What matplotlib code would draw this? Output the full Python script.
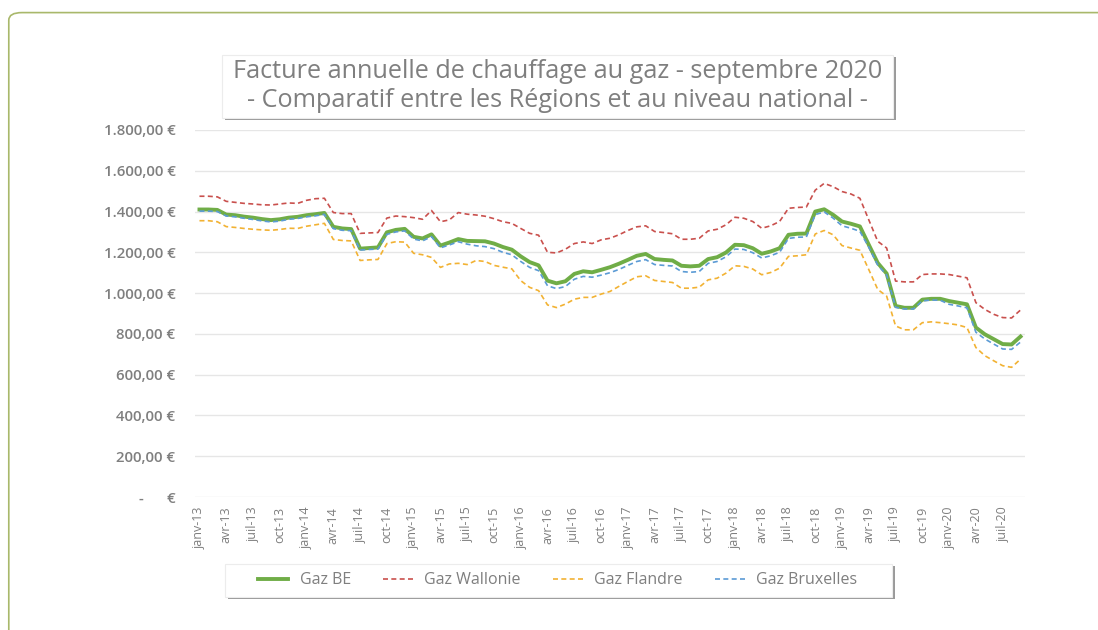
import matplotlib
matplotlib.use("Agg")
import matplotlib.pyplot as plt
from matplotlib.patches import FancyBboxPatch, Rectangle
import numpy as np

# monthly values, janv-13 .. sept-20
years = list(range(13, 21))
month_names = ["janv", "févr", "mars", "avr", "mai", "juin",
               "juil", "août", "sept", "oct", "nov", "déc"]
months = [f"{m}-{y}" for y in years for m in month_names][:93]

gaz_be = [1410, 1410, 1408, 1385, 1382, 1375, 1370, 1363, 1358, 1362, 1370, 1374,
          1382, 1387, 1393, 1325, 1317, 1314, 1218, 1221, 1224, 1298, 1310, 1315,
          1276, 1268, 1288, 1233, 1248, 1265, 1256, 1255, 1254, 1243, 1226, 1213,
          1180, 1152, 1136, 1061, 1048, 1058, 1094, 1107, 1102, 1114, 1127, 1144,
          1163, 1183, 1192, 1167, 1163, 1160, 1134, 1131, 1134, 1167, 1176, 1199,
          1237, 1235, 1220, 1193, 1204, 1220, 1286, 1291, 1292, 1400, 1411, 1384,
          1351, 1340, 1327, 1237, 1148, 1096, 937, 928, 928, 968, 972, 972,
          961, 953, 945, 831, 798, 774, 750, 748, 787]
gaz_wallonie = [1475, 1475, 1472, 1450, 1445, 1440, 1437, 1433, 1432, 1437, 1442, 1440,
                1455, 1463, 1465, 1395, 1390, 1390, 1293, 1295, 1297, 1368, 1378, 1375,
                1370, 1362, 1405, 1350, 1359, 1395, 1387, 1383, 1377, 1365, 1350, 1342,
                1317, 1293, 1284, 1200, 1197, 1215, 1243, 1251, 1243, 1261, 1269, 1286,
                1307, 1325, 1330, 1302, 1297, 1291, 1264, 1264, 1269, 1305, 1313, 1335,
                1372, 1367, 1351, 1318, 1330, 1351, 1416, 1420, 1422, 1505, 1538, 1522,
                1498, 1486, 1465, 1359, 1254, 1221, 1059, 1055, 1055, 1091, 1094, 1094,
                1091, 1083, 1075, 953, 920, 896, 880, 878, 917]
gaz_flandre = [1355, 1355, 1350, 1326, 1322, 1317, 1313, 1310, 1308, 1312, 1318, 1317,
               1328, 1335, 1342, 1263, 1258, 1256, 1160, 1163, 1165, 1243, 1252, 1250,
               1195, 1188, 1175, 1126, 1143, 1146, 1140, 1160, 1155, 1136, 1127, 1119,
               1061, 1028, 1012, 942, 929, 946, 970, 979, 979, 995, 1008, 1033,
               1057, 1080, 1085, 1062, 1057, 1052, 1024, 1024, 1029, 1065, 1073, 1098,
               1134, 1131, 1118, 1090, 1101, 1122, 1180, 1183, 1188, 1290, 1307, 1286,
               1233, 1221, 1210, 1115, 1018, 985, 839, 820, 820, 855, 859, 855,
               850, 844, 831, 733, 693, 668, 644, 636, 676]
gaz_bruxelles = [1402, 1402, 1400, 1378, 1374, 1367, 1361, 1354, 1349, 1353, 1362, 1366,
                 1374, 1379, 1386, 1316, 1308, 1306, 1211, 1214, 1216, 1288, 1300, 1305,
                 1265, 1256, 1277, 1222, 1236, 1252, 1240, 1232, 1228, 1218, 1200, 1188,
                 1155, 1126, 1110, 1036, 1022, 1032, 1068, 1082, 1078, 1088, 1100, 1116,
                 1136, 1155, 1164, 1140, 1136, 1133, 1106, 1102, 1106, 1146, 1155, 1178,
                 1216, 1214, 1198, 1172, 1183, 1200, 1268, 1274, 1275, 1385, 1398, 1368,
                 1330, 1318, 1303, 1225, 1138, 1088, 930, 922, 922, 962, 966, 965,
                 945, 937, 928, 808, 775, 750, 726, 724, 760]

y_ticks = [0, 200, 400, 600, 800, 1000, 1200, 1400, 1600, 1800]

def euro(v):
    if v == 0:
        return "-      €"
    return f"{v:,.2f}".replace(",", " ").replace(".", ",").replace(" ", ".") + " €"

plt.rcParams['font.family'] = ['Open Sans', 'DejaVu Sans']
grey = "#7f7f7f"

fig = plt.figure(figsize=(10.98, 6.3), dpi=100, facecolor="white")

# outer card border
card = FancyBboxPatch((0.008, -0.2), 1.2, 1.18, boxstyle="round,pad=0,rounding_size=0.012",
                      transform=fig.transFigure, facecolor="none", edgecolor="#a9b86b",
                      linewidth=1.2, zorder=0)
fig.patches.append(card)

ax = fig.add_axes([0.1776, 0.2111, 0.7559, 0.5826])
ax.set_facecolor("none")
x = np.arange(len(months))
ax.plot(x, gaz_be, color="#70ad47", lw=2.8, label="Gaz BE", zorder=3)
ax.plot(x, gaz_wallonie, color="#c9504d", lw=1.2, dashes=(3, 2), label="Gaz Wallonie", zorder=4)
ax.plot(x, gaz_flandre, color="#f2b233", lw=1.2, dashes=(3, 2), label="Gaz Flandre", zorder=4)
ax.plot(x, gaz_bruxelles, color="#5b9bd5", lw=1.2, dashes=(3, 2), label="Gaz Bruxelles", zorder=4)

ax.set_xlim(-0.5, len(months) - 0.5)
ax.set_ylim(0, 1800)
ax.set_yticks(y_ticks)
ax.set_yticklabels([euro(v) for v in y_ticks], color=grey, fontsize=10.8, fontweight="semibold")
ax.set_xticks(x[::3])
ax.set_xticklabels(months[::3], rotation=90, color=grey, fontsize=9)
ax.tick_params(length=0, pad=7)
ax.tick_params(axis="y", pad=14)
ax.grid(axis="y", color="#e6e6e6", lw=1)
ax.set_axisbelow(True)
for s in ax.spines.values():
    s.set_visible(False)

# title box with shadow
fig.patches.append(Rectangle((0.205, 0.809), 0.611, 0.100, transform=fig.transFigure,
                             facecolor="#9a9a9a", edgecolor="none", zorder=1))
fig.patches.append(Rectangle((0.202, 0.813), 0.611, 0.100, transform=fig.transFigure,
                             facecolor="white", edgecolor="#ececec", lw=0.8, zorder=2))
fig.text(0.508, 0.864, "Facture annuelle de chauffage au gaz - septembre 2020\n"
         "- Comparatif entre les Régions et au niveau national -",
         ha="center", va="center", fontsize=18.2, color=grey,
         linespacing=1.2, zorder=3)

# legend box with shadow
fig.patches.append(Rectangle((0.208, 0.049), 0.607, 0.052, transform=fig.transFigure,
                             facecolor="#9a9a9a", edgecolor="none", zorder=1))
fig.patches.append(Rectangle((0.205, 0.053), 0.607, 0.052, transform=fig.transFigure,
                             facecolor="white", edgecolor="#ececec", lw=0.8, zorder=2))
leg = fig.legend(loc="center", bbox_to_anchor=(0.508, 0.079), ncol=4, frameon=False,
                 fontsize=11.5, handlelength=1.9, columnspacing=2.0, handletextpad=0.7)
for t in leg.get_texts():
    t.set_color(grey)
leg.set_zorder(5)

fig.savefig("out.png", dpi=100)
